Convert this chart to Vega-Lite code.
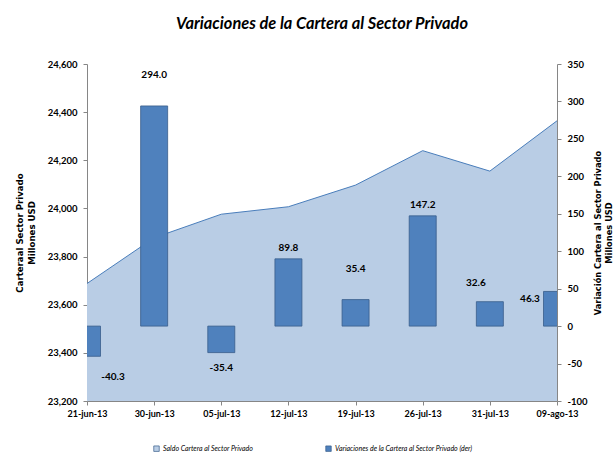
{
  "$schema": "https://vega.github.io/schema/vega-lite/v6.json",
  "width": 470,
  "height": 337,
  "autosize": "none",
  "padding": {"left": 87, "top": 64, "right": 57, "bottom": 52},
  "title": {"text": "Variaciones de la Cartera al Sector Privado", "fontSize": 16.4, "fontStyle": "italic", "fontWeight": "bold", "font": "Lato", "color": "#000000", "offset": 27},
  "data": {"values": [
    {"fecha": "21-jun-13", "saldo": 23688, "var": -40.3},
    {"fecha": "30-jun-13", "saldo": 23878, "var": 294.0},
    {"fecha": "05-jul-13", "saldo": 23976, "var": -35.4},
    {"fecha": "12-jul-13", "saldo": 24007, "var": 89.8},
    {"fecha": "19-jul-13", "saldo": 24097, "var": 35.4},
    {"fecha": "26-jul-13", "saldo": 24240, "var": 147.2},
    {"fecha": "31-jul-13", "saldo": 24155, "var": 32.6},
    {"fecha": "09-ago-13", "saldo": 24364, "var": 46.3}
  ]},
  "encoding": {
    "x": {"field": "fecha", "type": "ordinal", "sort": null, "scale": {"type": "point", "padding": 0},
      "axis": {"title": null, "labelAngle": 0, "labelFontWeight": "bold", "labelFontSize": 9, "tickSize": 4, "labelPadding": 4, "domainColor": "#868686", "tickColor": "#868686"}}
  },
  "layer": [
    {
      "encoding": {
        "y": {"field": "saldo", "type": "quantitative", "scale": {"domain": [23200, 24600], "zero": false, "nice": false},
          "axis": {"orient": "left", "values": [23200, 23400, 23600, 23800, 24000, 24200, 24400, 24600], "format": ",.0f", "labelOverlap": false, "title": ["Carteraal Sector Privado", "Millones USD"], "titleFont": "DejaVu Sans", "titleFontSize": 8.6, "titleFontWeight": "bold", "titlePadding": 11, "titleLineHeight": 12, "labelFontWeight": "bold", "labelFontSize": 9.5, "tickSize": 4, "labelPadding": 6, "domainColor": "#868686", "tickColor": "#868686", "grid": false}}
      },
      "layer": [
        {
          "mark": {"type": "area", "clip": true},
          "encoding": {
            "y2": {"datum": 23200},
            "color": {"datum": "Saldo Cartera al Sector Privado", "type": "nominal",
              "scale": {"domain": ["Saldo Cartera al Sector Privado", "Variaciones de la Cartera al Sector Privado (der)"], "range": ["#b9cde5", "#4f81bd"]},
              "legend": {"title": null, "orient": "none", "legendX": 66, "legendY": 381, "direction": "horizontal", "symbolType": "square", "symbolSize": 30, "symbolStrokeColor": "#4f81bd", "symbolStrokeWidth": 0.7, "labelFontSize": 7, "labelFontStyle": "italic", "labelOffset": 3, "columnPadding": 70}}
          }
        },
        {
          "mark": {"type": "line", "color": "#4a7ebb", "strokeWidth": 1},
          "encoding": {}
        }
      ]
    },
    {
      "encoding": {
        "y": {"field": "var", "type": "quantitative", "scale": {"domain": [-100, 350], "zero": false, "nice": false},
          "axis": {"orient": "right", "values": [-100, -50, 0, 50, 100, 150, 200, 250, 300, 350], "format": ".0f", "labelOverlap": false, "title": ["Variación Cartera al Sector Privado", "Millones USD"], "titleAngle": -90, "titleFont": "DejaVu Sans", "titleFontSize": 8.3, "titleFontWeight": "bold", "titlePadding": 4, "titleLineHeight": 11, "labelFontWeight": "bold", "labelFontSize": 9.5, "tickSize": 4, "labelPadding": 6, "domainColor": "#868686", "tickColor": "#868686", "grid": false}}
      },
      "layer": [
        {
          "mark": {"type": "bar", "size": 27, "clip": true, "stroke": "#385d8a", "strokeWidth": 0.8},
          "encoding": {
            "y2": {"datum": 0},
            "color": {"datum": "Variaciones de la Cartera al Sector Privado (der)", "type": "nominal"}
          }
        },
        {
          "transform": [{"filter": "datum.fecha == '30-jun-13' || datum.fecha == '19-jul-13'"}],
          "mark": {"type": "text", "fontWeight": "bold", "fontSize": 10, "baseline": "middle", "dy": -31},
          "encoding": {"text": {"field": "var", "type": "quantitative", "format": ".1f"}}
        },
        {
          "transform": [{"filter": "datum.fecha == '12-jul-13' || datum.fecha == '26-jul-13'"}],
          "mark": {"type": "text", "fontWeight": "bold", "fontSize": 10, "baseline": "middle", "dy": -11},
          "encoding": {"text": {"field": "var", "type": "quantitative", "format": ".1f"}}
        },
        {
          "transform": [{"filter": "datum.fecha == '31-jul-13'"}],
          "mark": {"type": "text", "fontWeight": "bold", "fontSize": 10, "baseline": "middle", "dy": -19, "dx": -14},
          "encoding": {"text": {"field": "var", "type": "quantitative", "format": ".1f"}}
        },
        {
          "transform": [{"filter": "datum.fecha == '09-ago-13'"}],
          "mark": {"type": "text", "fontWeight": "bold", "fontSize": 10, "baseline": "middle", "dy": 8, "dx": -27},
          "encoding": {"text": {"field": "var", "type": "quantitative", "format": ".1f"}}
        },
        {
          "transform": [{"filter": "datum.fecha == '21-jun-13'"}],
          "mark": {"type": "text", "fontWeight": "bold", "fontSize": 10, "baseline": "middle", "dy": 21, "dx": 26},
          "encoding": {"text": {"field": "var", "type": "quantitative", "format": ".1f"}}
        },
        {
          "transform": [{"filter": "datum.fecha == '05-jul-13'"}],
          "mark": {"type": "text", "fontWeight": "bold", "fontSize": 10, "baseline": "middle", "dy": 15},
          "encoding": {"text": {"field": "var", "type": "quantitative", "format": ".1f"}}
        }
      ]
    }
  ],
  "resolve": {"scale": {"y": "independent"}},
  "config": {
    "font": "Lato",
    "view": {"stroke": null},
    "axis": {"labelColor": "#000000", "titleColor": "#000000", "grid": false, "labelFont": "Lato"},
    "legend": {"labelColor": "#000000", "labelFont": "Lato"},
    "text": {"font": "Lato", "color": "#000000"},
    "locale": {"number": {"decimal": ".", "thousands": ",", "grouping": [3], "currency": ["$", ""], "minus": "-"}}
  }
}
